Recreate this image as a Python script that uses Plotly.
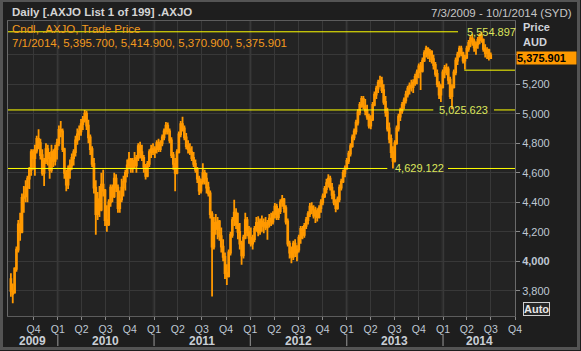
import plotly.graph_objects as go
import pandas as pd

# ---------------- data (weekly candles) ----------------
dates = pd.date_range(end="2014-07-01", periods=261, freq="7D")

opens = [3880,3800,3790,3950,4080,4250,4200,4430,4440,4500,4560,4620,4740,4700,4750,4830,4800,4720,4600,4680,
         4760,4700,4620,4740,4680,4760,4800,4890,4880,4760,4600,4520,4620,4650,4700,4740,4820,4860,4880,4930,
         4960,5000,4920,4840,4760,4660,4500,4320,4420,4350,4520,4480,4280,4250,4400,4500,4440,4560,4500,4360,
         4420,4500,4540,4600,4650,4690,4630,4680,4650,4700,4780,4740,4700,4640,4580,4660,4740,4760,4740,4760,
         4800,4760,4800,4840,4880,4920,4880,4820,4720,4660,4600,4740,4860,4930,4900,4840,4780,4760,4740,4700,
         4660,4620,4560,4480,4540,4600,4560,4500,4460,4320,4100,4260,4220,4270,4170,4100,4030,3920,3900,4060,
         4180,4280,4330,4250,4200,4120,4040,4160,4280,4200,4160,4120,4150,4220,4260,4200,4270,4240,4260,4230,
         4250,4290,4270,4320,4370,4300,4340,4400,4420,4360,4270,4120,4060,4030,4120,4060,4080,4160,4220,4180,
         4240,4280,4320,4370,4350,4310,4340,4300,4360,4400,4440,4490,4530,4560,4500,4450,4400,4360,4420,4500,
         4540,4600,4630,4680,4730,4780,4840,4880,4940,5010,5060,5100,5050,5020,4980,4920,4960,5060,5130,5170,
         5210,5220,5160,5080,5010,4900,4830,4740,4680,4800,4900,4980,5020,5060,5090,5130,5170,5190,5180,5210,
         5250,5280,5320,5290,5360,5410,5440,5400,5420,5370,5330,5270,5200,5130,5180,5280,5310,5300,5230,5120,
         5180,5280,5360,5400,5440,5410,5360,5380,5440,5480,5510,5490,5450,5470,5500,5530,5500,5440,5410,5430,
         5395.7]
highs = [3920,3850,3960,4100,4280,4330,4460,4510,4550,4580,4640,4760,4760,4790,4850,4895,4830,4760,4700,4800,
         4790,4740,4790,4760,4790,4830,4920,4950,4900,4770,4620,4650,4690,4730,4760,4850,4900,4920,4965,4985,
         5026,5020,4960,4860,4780,4700,4550,4470,4510,4600,4620,4490,4380,4420,4520,4520,4600,4590,4520,4480,
         4560,4580,4620,4690,4740,4700,4700,4740,4720,4800,4810,4790,4720,4660,4680,4760,4790,4800,4780,4820,
         4830,4820,4860,4900,4944,4940,4900,4840,4740,4700,4760,4880,4950,4980,4920,4870,4820,4800,4780,4740,
         4690,4640,4580,4560,4665,4620,4600,4540,4480,4340,4300,4320,4300,4280,4230,4150,4060,3980,4080,4200,
         4300,4418,4360,4330,4260,4140,4180,4330,4300,4240,4230,4180,4240,4300,4305,4290,4310,4290,4300,4280,
         4320,4330,4340,4396,4390,4360,4420,4450,4430,4380,4290,4140,4100,4140,4150,4110,4180,4240,4240,4260,
         4300,4340,4396,4400,4380,4370,4360,4380,4420,4460,4510,4560,4590,4580,4530,4480,4420,4440,4520,4560,
         4620,4650,4700,4750,4800,4860,4900,4960,5030,5080,5120,5120,5100,5060,5000,4990,5080,5150,5190,5230,
         5257,5250,5200,5120,5040,4940,4860,4780,4820,4920,5000,5040,5080,5110,5155,5190,5211,5230,5234,5270,
         5300,5340,5350,5380,5430,5460,5450,5438,5430,5400,5350,5300,5220,5200,5300,5330,5340,5320,5250,5200,
         5300,5380,5420,5460,5460,5420,5400,5460,5500,5530,5540,5510,5490,5520,5545,5554.897,5510,5470,5450,5440,
         5414.9]
lows =  [3760,3716,3780,3930,4060,4140,4190,4330,4400,4400,4490,4580,4620,4580,4730,4760,4690,4580,4510,4660,
         4650,4560,4600,4640,4650,4690,4780,4840,4740,4560,4475,4490,4560,4620,4650,4710,4790,4820,4850,4890,
         4940,4890,4800,4720,4640,4460,4180,4280,4300,4340,4440,4240,4200,4240,4370,4400,4430,4470,4330,4330,
         4400,4440,4480,4570,4630,4600,4600,4630,4600,4680,4700,4680,4600,4555,4570,4640,4700,4720,4700,4730,
         4740,4740,4780,4820,4860,4860,4800,4700,4620,4475,4590,4730,4840,4880,4820,4760,4730,4720,4680,4640,
         4600,4530,4450,4460,4520,4520,4460,4440,4290,3762,4080,4180,4150,4140,4060,4000,3880,3840,3890,4040,
         4160,4240,4220,4150,4080,3977,4020,4150,4170,4120,4100,4080,4130,4200,4170,4180,4200,4190,4210,4147,
         4230,4240,4250,4290,4280,4280,4320,4370,4330,4250,4100,4020,3988,4010,4030,4000,4060,4120,4150,4160,
         4220,4250,4300,4320,4290,4260,4270,4290,4330,4380,4430,4460,4500,4480,4420,4380,4332,4350,4400,4480,
         4530,4570,4620,4660,4710,4770,4820,4860,4920,4990,5040,5030,4990,4960,4900,4895,4950,5050,5100,5140,
         5180,5140,5060,4980,4880,4800,4700,4629.122,4670,4790,4880,4950,5000,5030,5070,5110,5130,5150,5140,5190,
         5200,5240,5160,5280,5350,5380,5370,5350,5340,5300,5250,5180,5100,5080,5170,5240,5260,5200,5100,5030,
         5170,5260,5330,5380,5390,5340,5300,5370,5420,5450,5460,5420,5400,5440,5470,5480,5420,5380,5370,5360,
         5370.9]
closes = [3800,3780,3950,4080,4250,4200,4430,4440,4500,4560,4620,4740,4700,4750,4830,4800,4720,4600,4680,4760,
          4700,4620,4740,4680,4760,4800,4890,4880,4760,4600,4520,4620,4650,4700,4740,4820,4860,4880,4930,4960,
          5000,4920,4840,4760,4660,4500,4320,4420,4350,4520,4480,4280,4250,4400,4500,4440,4560,4500,4360,4420,
          4500,4540,4600,4650,4690,4630,4680,4650,4700,4780,4740,4700,4640,4580,4660,4740,4760,4740,4760,4800,
          4760,4800,4840,4880,4920,4880,4820,4720,4660,4600,4740,4860,4930,4900,4840,4780,4760,4740,4700,4660,
          4620,4560,4480,4540,4600,4560,4500,4460,4320,4100,4260,4220,4270,4170,4100,4030,3920,3900,4060,4180,
          4280,4330,4250,4200,4120,4040,4160,4280,4200,4160,4120,4150,4220,4260,4200,4270,4240,4260,4230,4250,
          4290,4270,4320,4370,4300,4340,4400,4420,4360,4270,4120,4060,4030,4120,4060,4080,4160,4220,4180,4240,
          4280,4320,4370,4350,4310,4340,4300,4360,4400,4440,4490,4530,4560,4500,4450,4400,4360,4420,4500,4540,
          4600,4630,4680,4730,4780,4840,4880,4940,5010,5060,5100,5050,5020,4980,4920,4960,5060,5130,5170,5210,
          5220,5160,5080,5010,4900,4830,4740,4680,4800,4900,4980,5020,5060,5090,5130,5170,5190,5180,5210,5250,
          5280,5320,5290,5360,5410,5440,5400,5420,5370,5330,5270,5200,5130,5180,5280,5310,5300,5230,5120,5180,
          5280,5360,5400,5440,5410,5360,5380,5440,5480,5510,5490,5450,5470,5500,5530,5500,5440,5410,5430,5390,
          5375.901]

line_levels = [5554.897, 5025.623, 4629.122]
support_level = 5295
last_row = ["7/1/2014", 5395.700, 5414.900, 5370.900, 5375.901]
y_ticks = [3800, 4000, 4200, 4400, 4600, 4800, 5000, 5200, 5400]
years = [2009, 2010, 2011, 2012, 2013, 2014]
x_start, x_end = "2009-06-26", "2014-10-01"

# ---------------- geometry helpers (layout only) ----------------
W, H = 581, 351
L, R, T, B = 8, 515, 21, 316
def px(x):
    return (x - L) / (R - L)
def py(y):
    return (B - y) / (B - T)

ORANGE = "#ff9900"
BG = "#1e1e1e"
PLOT_BG = "#232323"
TXT = "#bfc8d4"
LBL = "#dde65c"
FONT = "Liberation Sans"

fig = go.Figure()
fig.add_trace(go.Candlestick(
    x=dates, open=opens, high=highs, low=lows, close=closes,
    increasing=dict(line=dict(color=ORANGE, width=1.8), fillcolor=ORANGE),
    decreasing=dict(line=dict(color=ORANGE, width=1.8), fillcolor=ORANGE),
    whiskerwidth=0, showlegend=False, hoverinfo="skip"))

qt = pd.date_range("2009-10-01", x_end, freq="QS")
qlabels = ["Q%d" % d.quarter for d in qt]

shapes = []
ann = []

rs, re_ = pd.Timestamp(x_start), pd.Timestamp(x_end)
for yv in years:
    a = max(pd.Timestamp(f"{yv}-01-01"), rs)
    b = min(pd.Timestamp(f"{yv + 1}-01-01"), re_)
    mid = a + (b - a) / 2
    ann.append(dict(x=mid, xref="x", y=py(341), yref="paper", text=f"<b>{yv}</b>",
                    showarrow=False, font=dict(family=FONT, size=12, color="#c9ced6"),
                    xanchor="center", yanchor="middle"))
    if yv > 2009:
        d = pd.Timestamp(f"{yv}-01-01")
        shapes.append(dict(type="line", xref="x", yref="paper", x0=d, x1=d, y0=0, y1=1,
                           line=dict(color="#2e2e2e", width=3), layer="below"))
        shapes.append(dict(type="line", xref="x", yref="paper", x0=d, x1=d, y0=py(334), y1=py(346),
                           line=dict(color="#9a9a9a", width=1)))

segs = {0: [(L, 458)], 1: [(L, 433.3), (494, R)], 2: [(L, 387.3), (448, R)]}
lab_x = {0: 465, 1: 437, 2: 393}
for i, lv in enumerate(line_levels):
    for (a, b) in segs[i]:
        shapes.append(dict(type="line", xref="paper", yref="y", x0=px(a), x1=px(b), y0=lv, y1=lv,
                           line=dict(color="#ffff00", width=1)))
    ann.append(dict(x=px(lab_x[i]), xref="paper", y=lv, yref="y", text=f"{lv:,.3f}",
                    showarrow=False, xanchor="left", yanchor="middle",
                    font=dict(family=FONT, size=11, color=LBL)))
shapes.append(dict(type="line", xref="paper", yref="y", x0=px(464.3), x1=px(R),
                   y0=support_level, y1=support_level, line=dict(color="#ffff00", width=1)))

shapes.append(dict(type="rect", xref="paper", yref="paper", x0=px(1.5), x1=px(578.5),
                   y0=py(348.5), y1=py(0.5), line=dict(color="#545454", width=3)))

ann.append(dict(x=px(10), xref="paper", y=py(12), yref="paper",
                text="<b>Daily [.AXJO List 1 of 199] .AXJO</b>", showarrow=False,
                xanchor="left", yanchor="middle", font=dict(family=FONT, size=11.5, color="#d4d4d4")))
ann.append(dict(x=px(574), xref="paper", y=py(13), yref="paper",
                text="7/3/2009 - 10/1/2014 (SYD)", showarrow=False,
                xanchor="right", yanchor="middle", font=dict(family=FONT, size=11.5, color="#c6c6c6")))
ann.append(dict(x=px(10), xref="paper", y=py(29.3), yref="paper",
                text="Cndl, .AXJO, Trade Price", showarrow=False,
                xanchor="left", yanchor="middle", font=dict(family=FONT, size=11.5, color="#f39a1e")))
row_txt = last_row[0] + ", " + ", ".join(f"{v:,.3f}" for v in last_row[1:])
ann.append(dict(x=px(10), xref="paper", y=py(43.3), yref="paper",
                text=row_txt, showarrow=False,
                xanchor="left", yanchor="middle", font=dict(family=FONT, size=11.5, color="#f39a1e")))
ann.append(dict(x=px(521), xref="paper", y=py(27), yref="paper", text="<b>Price</b>",
                showarrow=False, xanchor="left", yanchor="middle",
                font=dict(family=FONT, size=11, color="#cfd3da")))
ann.append(dict(x=px(521), xref="paper", y=py(41.5), yref="paper", text="<b>AUD</b>",
                showarrow=False, xanchor="left", yanchor="middle",
                font=dict(family=FONT, size=11, color="#cfd3da")))
ann.append(dict(x=px(516), xref="paper", y=closes[-1], yref="y", text=f"<b>{closes[-1]:,.3f}</b>",
                showarrow=False, xanchor="left", yanchor="middle", bgcolor=ORANGE,
                width=59, height=12, align="left", borderpad=0,
                font=dict(family=FONT, size=11, color="#000000")))
ann.append(dict(x=px(536.3), xref="paper", y=py(309), yref="paper", text="<b>Auto</b>",
                showarrow=False, xanchor="center", yanchor="middle", bgcolor="#262626",
                bordercolor="#cfcfcf", borderwidth=1, borderpad=0,
                font=dict(family=FONT, size=11, color="#e6e6e6")))

# the last-price box hides the 5,400 label in the reference
yt_text = []
for v in y_ticks:
    if v == 4000:
        yt_text.append("<b>%s</b>" % f"{v:,}")
    elif v == 5400:
        yt_text.append("")
    else:
        yt_text.append(f"{v:,}")

fig.update_layout(
    width=W, height=H,
    margin=dict(l=L, r=W - R, t=T, b=H - B),
    paper_bgcolor=BG, plot_bgcolor=PLOT_BG,
    font=dict(family=FONT),
    showlegend=False,
    shapes=shapes, annotations=ann,
    xaxis=dict(type="date", range=[x_start, x_end], rangeslider=dict(visible=False),
               tickmode="array", tickvals=qt, ticktext=qlabels,
               tickfont=dict(family=FONT, size=10.5, color=TXT),
               ticks="outside", ticklen=3, tickcolor="#8a8a8a",
               showgrid=True, gridcolor="#383838", gridwidth=1,
               showline=True, linecolor="#5c5c5c", mirror=True, zeroline=False, fixedrange=True),
    yaxis=dict(side="right", range=[3630, 5628], tickmode="array", tickvals=y_ticks, ticktext=yt_text,
               tickfont=dict(family=FONT, size=11, color=TXT),
               ticks="outside", ticklen=4, tickcolor="#8a8a8a",
               showgrid=True, gridcolor="#383838", gridwidth=1,
               showline=True, linecolor="#6a6a6a", mirror=True, zeroline=False, fixedrange=True),
)

fig.write_html("out.html")
